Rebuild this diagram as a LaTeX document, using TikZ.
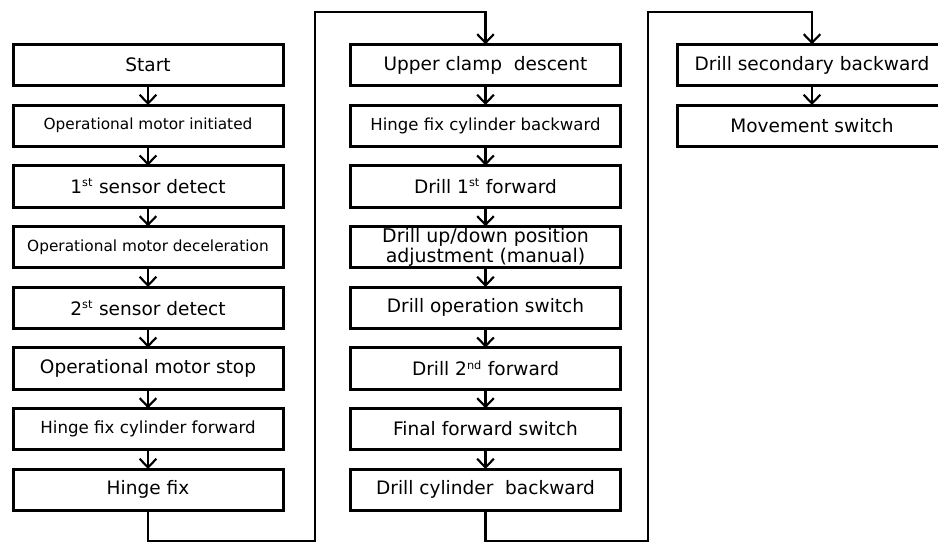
\documentclass[tikz,border=0pt]{standalone}
\usepackage{fontspec}
\setmainfont{DejaVu Sans}
\usetikzlibrary{arrows.meta,positioning}
\newcommand{\bxf}{\fontsize{13.9}{14}\selectfont}
\newcommand{\bxs}{\fontsize{11.5}{12}\selectfont}
\newcommand{\nth}[2]{#1\textsuperscript{\fontsize{8.5}{9}\selectfont #2}}

\begin{document}
\begin{tikzpicture}[x=0.75pt, y=-0.75pt, every node/.style={inner sep=0pt, outer sep=0pt, font=\bxf},
  stepbox/.style={draw, line width=2.25pt, minimum width=202.5pt, minimum height=31pt, align=center},
  flow/.style={line width=1.6pt, -{Straight Barb[length=6.5pt,width=12.5pt]}}]
\useasboundingbox (0,0) rectangle (938,542);
% ---- column 1
\node[stepbox] (start) at (148,65) {Start};
\node[stepbox, below=14.5pt of start, font=\bxs] (init) {Operational motor initiated};
\node[stepbox, below=14.5pt of init] (sens1) {\nth{1}{st} sensor detect};
\node[stepbox, below=14.5pt of sens1, font=\bxs] (decel) {Operational motor deceleration};
\node[stepbox, below=14.5pt of decel] (sens2) {\nth{2}{st} sensor detect};
\node[stepbox, below=14.5pt of sens2] (stop) {Operational motor stop};
\node[stepbox, below=14.5pt of stop, font=\fontsize{12.5}{13}\selectfont] (hfwd) {Hinge fix cylinder forward};
\node[stepbox, below=14.5pt of hfwd] (hfix) {Hinge fix};
% ---- column 2
\node[stepbox] (clamp) at (485.5,65) {Upper clamp \ descent};
\node[stepbox, below=14.5pt of clamp, font=\fontsize{12.4}{13}\selectfont] (hbwd) {Hinge fix cylinder backward};
\node[stepbox, below=14.5pt of hbwd] (dfwd1) {Drill \nth{1}{st} forward};
\node[stepbox, below=14.5pt of dfwd1, font=\fontsize{14.2}{13.5}\selectfont] (adjust) {Drill up/down position\\adjustment (manual)};
\node[stepbox, below=14.5pt of adjust] (dswitch) {Drill operation switch};
\node[stepbox, below=14.5pt of dswitch] (dfwd2) {Drill \nth{2}{nd} forward};
\node[stepbox, below=14.5pt of dfwd2] (final) {Final forward switch};
\node[stepbox, below=14.5pt of final] (cbwd) {Drill cylinder \ backward};
% ---- column 3
\node[stepbox] (dbwd2) at (812,65) {Drill secondary backward};
\node[stepbox, below=14.5pt of dbwd2] (move) {Movement switch};
% ---- arrows
\foreach \a/\b in {start/init, init/sens1, sens1/decel, decel/sens2, sens2/stop, stop/hfwd, hfwd/hfix,
  clamp/hbwd, hbwd/dfwd1, dfwd1/adjust, adjust/dswitch, dswitch/dfwd2, dfwd2/final, final/cbwd, dbwd2/move}
  \draw[flow] (\a) -- (\b);
% ---- links between columns
\coordinate (low1) at (315,541);
\coordinate (top1) at (315,12);
\coordinate (low2) at (648,541);
\coordinate (top2) at (648,12);
\draw[flow] (hfix.south) |- (low1) -- (top1) -| (clamp.north);
\draw[flow] (cbwd.south) |- (low2) -- (top2) -| (dbwd2.north);
\end{tikzpicture}
\end{document}
